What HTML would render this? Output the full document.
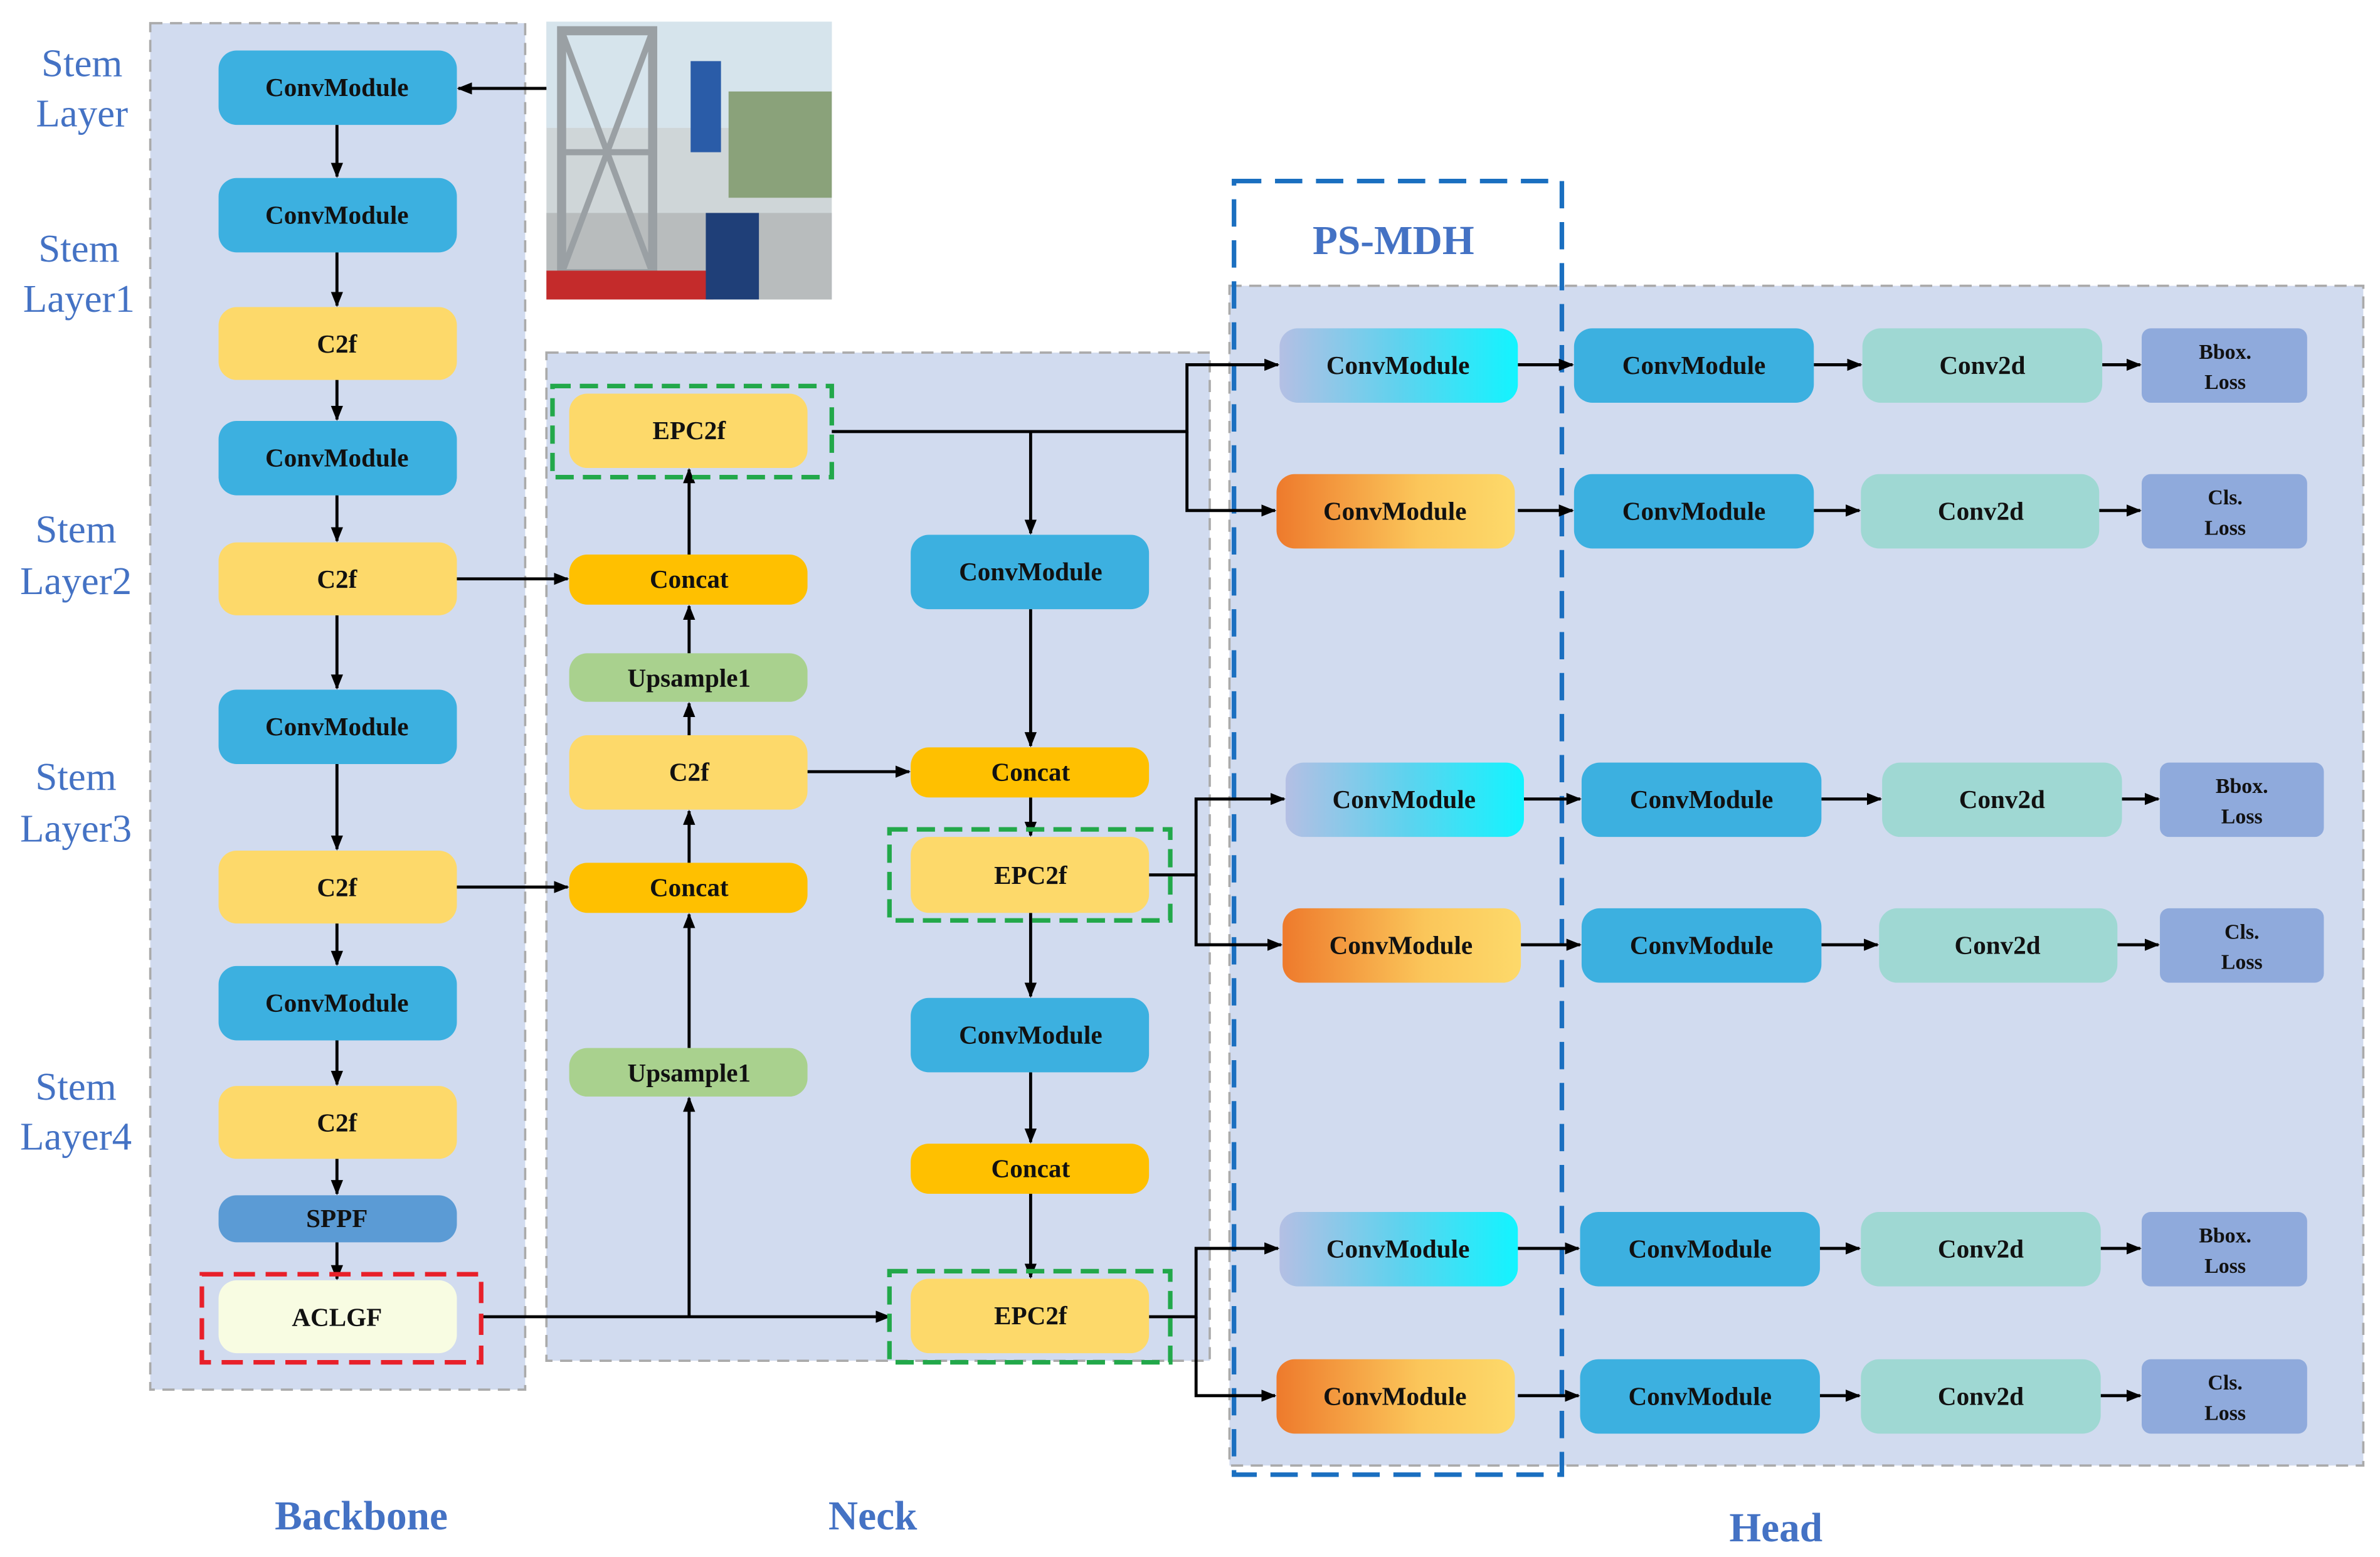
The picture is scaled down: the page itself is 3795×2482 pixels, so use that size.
<!DOCTYPE html>
<html><head><meta charset="utf-8"><style>
html,body{margin:0;padding:0;background:#fff;}
svg{display:block;}
svg text{font-family:"Liberation Serif","DejaVu Serif",serif !important;}
</style></head><body>
<svg width="3795" height="2482" viewBox="0 0 1568 1025" xmlns="http://www.w3.org/2000/svg" font-family="Liberation Serif, serif">
<defs>
<linearGradient id="gb" x1="0" x2="1" y1="0" y2="0"><stop offset="0" stop-color="#b4bfe4"/><stop offset="0.5" stop-color="#5fd2ee"/><stop offset="1" stop-color="#12f4ff"/></linearGradient>
<linearGradient id="go" x1="0" x2="1" y1="0" y2="0"><stop offset="0" stop-color="#ee7a2c"/><stop offset="0.6" stop-color="#fbc65a"/><stop offset="1" stop-color="#fdd96a"/></linearGradient>
<marker id="a" markerWidth="10" markerHeight="8" refX="9" refY="4" orient="auto" markerUnits="userSpaceOnUse"><path d="M0,0 L10,4 L0,8 z" fill="#000"/></marker>
</defs>
<rect x="99" y="15" width="247" height="900" fill="#d1dbef" stroke="#aaa" stroke-dasharray="8,5" stroke-width="1.5"/>
<rect x="360" y="232" width="437" height="664" fill="#d1dbef" stroke="#aaa" stroke-dasharray="8,5" stroke-width="1.5"/>
<rect x="810" y="188" width="747" height="777" fill="#d1dbef" stroke="#aaa" stroke-dasharray="8,5" stroke-width="1.5"/>
<rect x="813" y="119" width="216" height="852" fill="none" stroke="#1a6fc0" stroke-dasharray="18,9" stroke-width="3"/>
<!-- photo -->
<rect x="360" y="14" width="188" height="183" fill="#cfd6d8"/>
<rect x="360" y="14" width="188" height="70" fill="#d6e4ec"/>
<rect x="480" y="60" width="68" height="70" fill="#8aa27a"/>
<rect x="360" y="140" width="188" height="57" fill="#b8bcbd"/>
<path d="M370,20 L430,20 L430,180 L370,180 Z" fill="none" stroke="#9aa0a4" stroke-width="6"/>
<path d="M370,20 L430,180 M430,20 L370,180 M370,100 L430,100" stroke="#9aa0a4" stroke-width="4"/>
<rect x="360" y="178" width="110" height="19" fill="#c42b2b"/>
<rect x="455" y="40" width="20" height="60" fill="#2a5ca8"/>
<rect x="465" y="140" width="35" height="57" fill="#1f3f78"/>
<g fill="#4472c4" font-size="26" text-anchor="middle" font-family="Liberation Serif, serif">
<text x="54" y="50">Stem</text><text x="54" y="83">Layer</text>
<text x="52" y="172">Stem</text><text x="52" y="205">Layer1</text>
<text x="50" y="357">Stem</text><text x="50" y="391">Layer2</text>
<text x="50" y="520">Stem</text><text x="50" y="554">Layer3</text>
<text x="50" y="724">Stem</text><text x="50" y="757">Layer4</text>
</g>
<g fill="#4472c4" font-size="27" font-weight="bold" text-anchor="middle" font-family="Liberation Serif, serif">
<text x="238" y="1007">Backbone</text><text x="575" y="1007">Neck</text><text x="1170" y="1015">Head</text><text x="918" y="167">PS-MDH</text>
</g>
<g stroke="#000" stroke-width="2" fill="none" marker-end="url(#a)">
<line x1="360" y1="58" x2="302" y2="58"/>
<line x1="222" y1="82" x2="222" y2="116"/>
<line x1="222" y1="166" x2="222" y2="201"/>
<line x1="222" y1="250" x2="222" y2="276"/>
<line x1="222" y1="326" x2="222" y2="356"/>
<line x1="222" y1="405" x2="222" y2="453"/>
<line x1="222" y1="503" x2="222" y2="559"/>
<line x1="222" y1="608" x2="222" y2="635"/>
<line x1="222" y1="685" x2="222" y2="714"/>
<line x1="222" y1="763" x2="222" y2="786"/>
<line x1="222" y1="818" x2="222" y2="842"/>
<line x1="301" y1="381" x2="374" y2="381"/>
<line x1="301" y1="584" x2="374" y2="584"/>
<polyline points="317,867 586,867"/>
<polyline points="454,867 454,723"/>
<line x1="454" y1="690" x2="454" y2="602"/>
<line x1="454" y1="568" x2="454" y2="534"/>
<line x1="454" y1="484" x2="454" y2="463"/>
<line x1="454" y1="430" x2="454" y2="399"/>
<line x1="454" y1="365" x2="454" y2="309"/>
<line x1="532" y1="508" x2="599" y2="508"/>
<polyline points="679,284 679,351"/>
<polyline points="548,284 782,284 782,240 842,240"/>
<polyline points="782,284 782,336 840,336"/>
<line x1="679" y1="401" x2="679" y2="491"/>
<line x1="679" y1="525" x2="679" y2="550"/>
<line x1="679" y1="601" x2="679" y2="656"/>
<line x1="679" y1="706" x2="679" y2="752"/>
<line x1="679" y1="786" x2="679" y2="841"/>
<polyline points="757,576 788,576 788,526 846,526"/>
<polyline points="788,576 788,622 844,622"/>
<polyline points="757,867 788,867 788,822 842,822"/>
<polyline points="788,867 788,919 840,919"/>
<line x1="1000" y1="240" x2="1036" y2="240"/><line x1="1195" y1="240" x2="1226" y2="240"/><line x1="1385" y1="240" x2="1410" y2="240"/>
<line x1="1000" y1="336" x2="1036" y2="336"/><line x1="1195" y1="336" x2="1225" y2="336"/><line x1="1383" y1="336" x2="1410" y2="336"/>
<line x1="1004" y1="526" x2="1041" y2="526"/><line x1="1200" y1="526" x2="1239" y2="526"/><line x1="1398" y1="526" x2="1422" y2="526"/>
<line x1="1002" y1="622" x2="1041" y2="622"/><line x1="1200" y1="622" x2="1237" y2="622"/><line x1="1395" y1="622" x2="1422" y2="622"/>
<line x1="1000" y1="822" x2="1040" y2="822"/><line x1="1199" y1="822" x2="1225" y2="822"/><line x1="1384" y1="822" x2="1410" y2="822"/>
<line x1="1000" y1="919" x2="1040" y2="919"/><line x1="1199" y1="919" x2="1225" y2="919"/><line x1="1384" y1="919" x2="1410" y2="919"/>
</g>
<g font-size="17" font-weight="bold" text-anchor="middle" fill="#111" font-family="Liberation Serif, serif">
<rect x="144" y="33" width="157" height="49" rx="12" fill="#3cb0e0"/><text x="222" y="63">ConvModule</text>
<rect x="144" y="117" width="157" height="49" rx="12" fill="#3cb0e0"/><text x="222" y="147">ConvModule</text>
<rect x="144" y="202" width="157" height="48" rx="12" fill="#fdd96a"/><text x="222" y="232">C2f</text>
<rect x="144" y="277" width="157" height="49" rx="12" fill="#3cb0e0"/><text x="222" y="307">ConvModule</text>
<rect x="144" y="357" width="157" height="48" rx="12" fill="#fdd96a"/><text x="222" y="387">C2f</text>
<rect x="144" y="454" width="157" height="49" rx="12" fill="#3cb0e0"/><text x="222" y="484">ConvModule</text>
<rect x="144" y="560" width="157" height="48" rx="12" fill="#fdd96a"/><text x="222" y="590">C2f</text>
<rect x="144" y="636" width="157" height="49" rx="12" fill="#3cb0e0"/><text x="222" y="666">ConvModule</text>
<rect x="144" y="715" width="157" height="48" rx="12" fill="#fdd96a"/><text x="222" y="745">C2f</text>
<rect x="144" y="787" width="157" height="31" rx="12" fill="#5b9bd5"/><text x="222" y="808">SPPF</text>
<rect x="144" y="843" width="157" height="48" rx="12" fill="#f8fce2"/><text x="222" y="873">ACLGF</text>
<rect x="375" y="259" width="157" height="49" rx="12" fill="#fdd96a"/><text x="454" y="289">EPC2f</text>
<rect x="375" y="365" width="157" height="33" rx="12" fill="#ffc000"/><text x="454" y="387">Concat</text>
<rect x="375" y="430" width="157" height="32" rx="12" fill="#a9d18e"/><text x="454" y="452">Upsample1</text>
<rect x="375" y="484" width="157" height="49" rx="12" fill="#fdd96a"/><text x="454" y="514">C2f</text>
<rect x="375" y="568" width="157" height="33" rx="12" fill="#ffc000"/><text x="454" y="590">Concat</text>
<rect x="375" y="690" width="157" height="32" rx="12" fill="#a9d18e"/><text x="454" y="712">Upsample1</text>
<rect x="600" y="352" width="157" height="49" rx="12" fill="#3cb0e0"/><text x="679" y="382">ConvModule</text>
<rect x="600" y="492" width="157" height="33" rx="12" fill="#ffc000"/><text x="679" y="514">Concat</text>
<rect x="600" y="551" width="157" height="50" rx="12" fill="#fdd96a"/><text x="679" y="582">EPC2f</text>
<rect x="600" y="657" width="157" height="49" rx="12" fill="#3cb0e0"/><text x="679" y="687">ConvModule</text>
<rect x="600" y="753" width="157" height="33" rx="12" fill="#ffc000"/><text x="679" y="775">Concat</text>
<rect x="600" y="842" width="157" height="49" rx="12" fill="#fdd96a"/><text x="679" y="872">EPC2f</text>
<rect x="843" y="216" width="157" height="49" rx="12" fill="url(#gb)"/><text x="921" y="246">ConvModule</text>
<rect x="1037" y="216" width="158" height="49" rx="12" fill="#3cb0e0"/><text x="1116" y="246">ConvModule</text>
<rect x="1227" y="216" width="158" height="49" rx="12" fill="#9fd8d3"/><text x="1306" y="246">Conv2d</text>
<rect x="1411" y="216" width="109" height="49" rx="6" fill="#8faadc"/><text x="1466" y="236" font-size="14">Bbox.</text><text x="1466" y="256" font-size="14">Loss</text>
<rect x="841" y="312" width="157" height="49" rx="12" fill="url(#go)"/><text x="919" y="342">ConvModule</text>
<rect x="1037" y="312" width="158" height="49" rx="12" fill="#3cb0e0"/><text x="1116" y="342">ConvModule</text>
<rect x="1226" y="312" width="157" height="49" rx="12" fill="#9fd8d3"/><text x="1305" y="342">Conv2d</text>
<rect x="1411" y="312" width="109" height="49" rx="6" fill="#8faadc"/><text x="1466" y="332" font-size="14">Cls.</text><text x="1466" y="352" font-size="14">Loss</text>
<rect x="847" y="502" width="157" height="49" rx="12" fill="url(#gb)"/><text x="925" y="532">ConvModule</text>
<rect x="1042" y="502" width="158" height="49" rx="12" fill="#3cb0e0"/><text x="1121" y="532">ConvModule</text>
<rect x="1240" y="502" width="158" height="49" rx="12" fill="#9fd8d3"/><text x="1319" y="532">Conv2d</text>
<rect x="1423" y="502" width="108" height="49" rx="6" fill="#8faadc"/><text x="1477" y="522" font-size="14">Bbox.</text><text x="1477" y="542" font-size="14">Loss</text>
<rect x="845" y="598" width="157" height="49" rx="12" fill="url(#go)"/><text x="923" y="628">ConvModule</text>
<rect x="1042" y="598" width="158" height="49" rx="12" fill="#3cb0e0"/><text x="1121" y="628">ConvModule</text>
<rect x="1238" y="598" width="157" height="49" rx="12" fill="#9fd8d3"/><text x="1316" y="628">Conv2d</text>
<rect x="1423" y="598" width="108" height="49" rx="6" fill="#8faadc"/><text x="1477" y="618" font-size="14">Cls.</text><text x="1477" y="638" font-size="14">Loss</text>
<rect x="843" y="798" width="157" height="49" rx="12" fill="url(#gb)"/><text x="921" y="828">ConvModule</text>
<rect x="1041" y="798" width="158" height="49" rx="12" fill="#3cb0e0"/><text x="1120" y="828">ConvModule</text>
<rect x="1226" y="798" width="158" height="49" rx="12" fill="#9fd8d3"/><text x="1305" y="828">Conv2d</text>
<rect x="1411" y="798" width="109" height="49" rx="6" fill="#8faadc"/><text x="1466" y="818" font-size="14">Bbox.</text><text x="1466" y="838" font-size="14">Loss</text>
<rect x="841" y="895" width="157" height="49" rx="12" fill="url(#go)"/><text x="919" y="925">ConvModule</text>
<rect x="1041" y="895" width="158" height="49" rx="12" fill="#3cb0e0"/><text x="1120" y="925">ConvModule</text>
<rect x="1226" y="895" width="158" height="49" rx="12" fill="#9fd8d3"/><text x="1305" y="925">Conv2d</text>
<rect x="1411" y="895" width="109" height="49" rx="6" fill="#8faadc"/><text x="1466" y="915" font-size="14">Cls.</text><text x="1466" y="935" font-size="14">Loss</text>
</g>
<rect x="133" y="839" width="184" height="58" fill="none" stroke="#e8202a" stroke-width="3" stroke-dasharray="14,7"/>
<g fill="none" stroke="#22a84a" stroke-width="3" stroke-dasharray="12,6">
<rect x="364" y="254" width="184" height="60"/>
<rect x="586" y="546" width="185" height="60"/>
<rect x="586" y="837" width="185" height="60"/>
</g>
</svg>
</body></html>
